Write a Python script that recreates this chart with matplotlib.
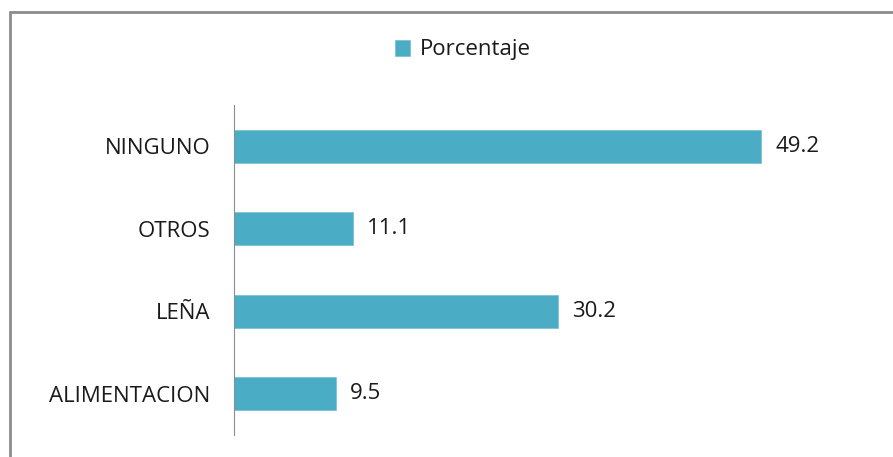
import matplotlib
matplotlib.use('Agg')
import matplotlib.pyplot as plt
from matplotlib.patches import Rectangle

categories = ['ALIMENTACION', 'LEÑA', 'OTROS', 'NINGUNO']
porcentaje = [9.5, 30.2, 11.1, 49.2]

plt.rcParams['font.family'] = ['Open Sans', 'DejaVu Sans']

W, H = 893, 457
fig = plt.figure(figsize=(W / 100, H / 100), dpi=100)

# marco gris del gráfico (cortado a la derecha y abajo)
fig.patches.append(Rectangle((9.5 / W, -0.1), 2, 1.1 - 11.5 / H,
                             transform=fig.transFigure, fill=False,
                             edgecolor='#8c8c8c', linewidth=2))

ax = fig.add_axes([234 / W, 1 - 435 / H, (877 - 234) / W, 330 / H])
bars = ax.barh(range(len(categories)), porcentaje, height=0.4,
               color='#4BACC6', edgecolor='#7cc3d6', linewidth=0.6,
               label='Porcentaje')
ax.set_xlim(0, 60)
ax.set_ylim(-0.5, len(categories) - 0.5)
ax.set_yticks(range(len(categories)))
ax.set_yticklabels(categories, fontsize=16, color='#1a1a1a')
ax.tick_params(axis='y', length=0, pad=17)
ax.set_xticks([])
for s in ['top', 'right', 'bottom']:
    ax.spines[s].set_visible(False)
ax.spines['left'].set_color('#8c8c8c')

for b, v in zip(bars, porcentaje):
    ax.text(b.get_width() + 1.3, b.get_y() + b.get_height() / 2, f'{v:.1f}',
            va='center', ha='left', fontsize=16, color='#1a1a1a')

fig.legend(loc='center', bbox_to_anchor=(463 / W, 1 - 50 / H), frameon=False,
           fontsize=16, handlelength=0.7, handleheight=0.7, handletextpad=0.45,
           labelcolor='#1a1a1a')

fig.savefig('out.png', dpi=100)
